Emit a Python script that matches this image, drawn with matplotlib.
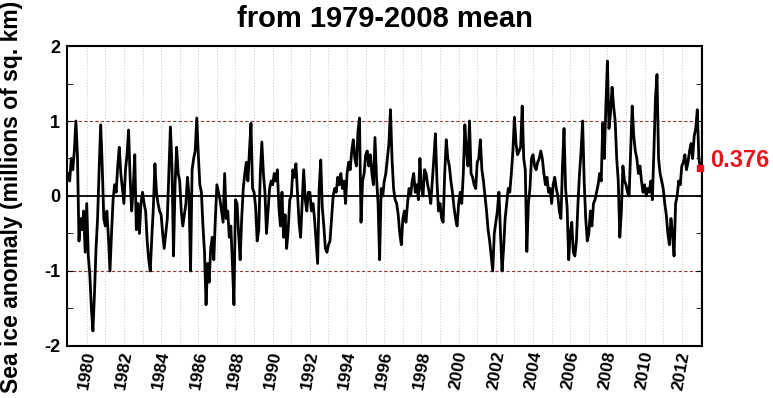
import numpy as np
import matplotlib.pyplot as plt
from matplotlib.ticker import MultipleLocator

plt.rcParams['font.family'] = ['Liberation Sans', 'DejaVu Sans']

# Sea ice anomaly, one value per month (millions of sq. km)
anom_1979_1983 = [
    0.3, 0.2, 0.5, 0.35, 0.6, 1.0, 0.55, -0.6, -0.3, -0.45, -0.2, -0.75,
    -0.1, -0.8, -1.05, -1.5, -1.8, -1.3, -0.7, -0.3, 0.35, 0.95, 0.4, -0.3,
    -0.4, -0.2, -0.55, -1.0, -0.5, -0.05, 0.15, 0.05, 0.4, 0.65, 0.3, 0.1,
    -0.1, 0.35, 0.55, 0.88, 0.25, -0.2, 0.1, 0.55, -0.45, -0.1, -0.5, -0.1,
    0.05, -0.1, -0.2, -0.6, -0.85, -1.0, -0.55, -0.15, 0.43, 0.05, -0.1, -0.2,
]
anom_1984_1988 = [
    -0.25, -0.5, -0.7, -0.5, -0.3, 0.3, 0.92, 0.4, -0.8, 0.15, 0.65, 0.3,
    0.2, -0.2, -0.4, -0.25, -0.1, 0.25, 0.0, -1.0, 0.35, 0.5, 0.6, 1.04,
    0.55, 0.15, 0.05, -0.4, -0.75, -1.45, -0.9, -1.15, -0.7, -0.55, -0.85, -0.3,
    0.15, 0.05, -0.05, -0.2, -0.35, 0.3, -0.3, -0.2, -0.55, -0.4, -0.9, -1.45,
    -0.05, -0.1, -0.5, -0.85, -0.3, 0.1, 0.3, 0.45, 0.2, 0.6, 0.97, 0.1,
]
anom_1989_1993 = [
    0.05, -0.15, -0.6, -0.45, 0.3, 0.72, 0.3, 0.05, -0.5, -0.2, 0.1, 0.2,
    0.15, 0.3, 0.2, 0.35, -0.15, -0.4, 0.05, -0.55, -0.25, -0.7, -0.45, -0.05,
    0.0, 0.35, 0.25, 0.43, 0.05, -0.35, -0.55, -0.1, 0.35, -0.05, -0.2, 0.05,
    0.05, -0.2, -0.1, -0.3, -0.6, -0.9, 0.1, 0.48, -0.15, -0.4, -0.7, -0.75,
    -0.65, -0.6, -0.3, 0.0, 0.1, 0.05, 0.25, 0.15, 0.3, 0.1, 0.2, -0.1,
]
anom_1994_1998 = [
    0.3, 0.45, 0.35, 0.6, 0.75, 0.5, 0.4, 0.85, 1.04, -0.35, 0.2, 0.3,
    0.55, 0.6, 0.4, 0.55, 0.3, 0.15, 0.78, 0.25, -0.1, -0.85, 0.1, 0.0,
    0.2, 0.3, 0.5, 0.7, 1.15, 0.5, 0.1, -0.05, -0.1, -0.25, -0.5, -0.65,
    -0.3, -0.2, -0.35, -0.1, 0.1, 0.0, 0.2, 0.3, 0.05, 0.15, -0.05, 0.5,
    0.1, 0.0, 0.35, 0.3, 0.15, 0.05, -0.1, 0.2, 0.5, 0.83, 0.2, -0.2,
]
anom_1999_2003 = [
    -0.1, -0.3, -0.35, 0.3, 0.75, 0.5, 0.4, 0.2, 0.05, -0.15, -0.3, -0.4,
    -0.1, 0.05, -0.1, 0.3, 0.95, 0.6, 0.4, 1.0, 0.3, 0.25, 0.15, 0.1,
    0.45, 0.5, 0.75, 0.35, 0.2, 0.0, -0.2, -0.45, -0.6, -0.8, -1.0, -0.5,
    -0.35, -0.2, 0.05, -0.5, -1.0, -0.7, -0.3, -0.1, 0.1, 0.05, 0.3, 0.6,
    1.05, 0.7, 0.55, 0.6, 0.65, 1.2, 0.5, 0.35, -0.74, -0.1, 0.1, 0.5,
]
anom_2004_2008 = [
    0.55, 0.4, 0.35, 0.45, 0.5, 0.6, 0.5, 0.3, 0.15, 0.25, 0.05, 0.1,
    -0.1, 0.15, 0.25, 0.1, 0.0, -0.2, -0.3, 0.4, 0.9, 0.1, -0.15, -0.85,
    -0.5, -0.35, -0.75, -0.8, -0.6, -0.1, 0.3, 0.6, 1.0, 0.2, -0.3, -0.6,
    -0.5, -0.2, -0.4, -0.1, -0.05, 0.05, 0.15, 0.3, 0.2, 0.97, 0.5, 1.2,
    1.8, 0.9, 1.1, 1.45, 1.2, 1.0, 0.5, 0.2, -0.55, -0.2, 0.4, 0.2,
]
anom_2009_2013 = [
    0.15, 0.05, 0.0, 0.6, 1.2, 0.8, 0.6, 0.5, 0.3, 0.4, 0.2, 0.05,
    0.15, 0.0, 0.1, 0.05, 0.2, -0.05, 0.6, 1.3, 1.62, 0.5, 0.3, 0.2,
    0.1, -0.1, -0.25, -0.5, -0.65, -0.3, -0.5, -0.8, -0.1, 0.0, 0.2, 0.15,
    0.4, 0.45, 0.55, 0.35, 0.45, 0.6, 0.7, 0.5, 0.8, 0.9, 1.15, 0.5,
    0.376,
]
latest_value = 0.376
start_year = 1979
label_years = list(range(1980, 2013, 2))

anom = np.array(anom_1979_1983 + anom_1984_1988 + anom_1989_1993 +
                anom_1994_1998 + anom_1999_2003 + anom_2004_2008 + anom_2009_2013)
t = start_year + np.arange(len(anom)) / 12.0

fig = plt.figure(figsize=(7.73, 3.98), dpi=100)
ax = fig.add_axes([0.0867, 0.1307, 0.8213, 0.7537])

# yearly dotted grid
for yr in range(1980, 2014):
    ax.axvline(yr, color='#c8c8c8', lw=0.7, ls=(0, (1, 2)), zorder=0)

ax.axhline(0, color='black', lw=1.3, zorder=1)
for lvl in (1, -1):
    ax.axhline(lvl, color='#8a3a3a', lw=0.8, ls=(0, (3, 2)), zorder=1)

ax.plot(t, anom, color='black', lw=2.0, zorder=2)
ax.plot([t[-1]], [latest_value], 's', color='#e8141c', ms=4, zorder=3, clip_on=False)
ax.annotate(f'{latest_value:.3f}', xy=(t[-1], latest_value), xytext=(7, 5),
            textcoords='offset points', color='#e8141c', fontsize=17,
            fontweight='bold', va='center', ha='left', annotation_clip=False)

ax.set_xlim(1978.94, 2013.08)
ax.set_ylim(-2, 2)
ax.set_xticks(label_years)
ax.set_xticklabels([str(y) for y in label_years], rotation=80,
                   fontsize=12.5, fontweight='bold')
ax.tick_params(axis='x', length=0, pad=3)
ax.set_yticks([-2, -1, 0, 1, 2])
ax.set_yticklabels(['-2', '-1', '0', '1', '2'], fontsize=13, fontweight='bold')
ax.yaxis.set_minor_locator(MultipleLocator(0.5))
ax.tick_params(axis='y', which='both', direction='in', length=4, right=True, pad=5)
for s in ax.spines.values():
    s.set_linewidth(1.5)

fig.text(0.498, 0.932, 'from 1979-2008 mean', ha='center', va='baseline',
         fontsize=21, fontweight='bold')
fig.text(0.015, 0.505, 'Sea ice anomaly (millions of sq. km)', rotation=90,
         ha='center', va='center', fontsize=16.5, fontweight='bold')

fig.savefig('out.png', dpi=100)
